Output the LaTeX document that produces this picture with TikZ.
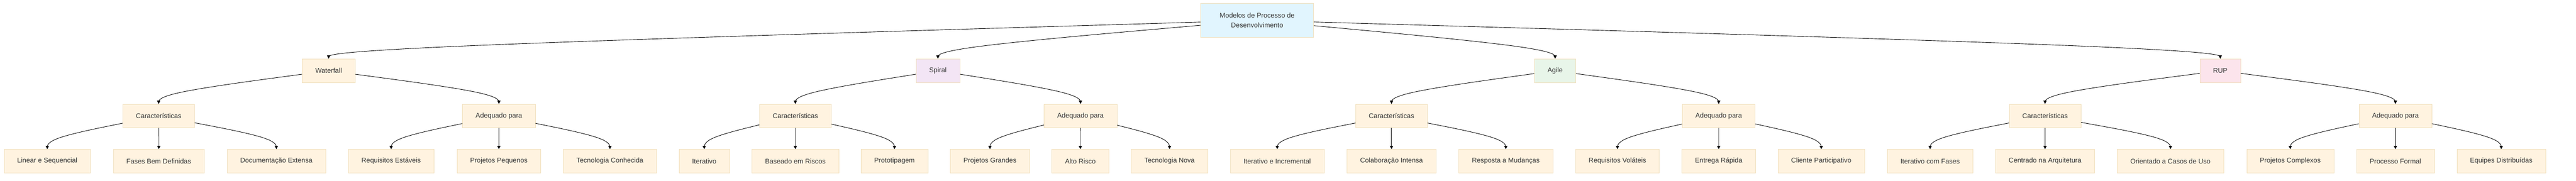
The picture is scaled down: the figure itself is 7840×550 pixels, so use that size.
\documentclass[tikz,border=0pt]{standalone}
\usepackage{fontspec}
\setmainfont{Liberation Sans}
\usetikzlibrary{calc,arrows.meta}
\definecolor{boxline}{HTML}{F0DFBC}
\definecolor{txt}{HTML}{333333}
\definecolor{cream}{HTML}{FFF3E0}
\definecolor{rootfill}{HTML}{E1F5FE}
\definecolor{spiralfill}{HTML}{F3E5F5}
\definecolor{agilefill}{HTML}{E8F5E9}
\definecolor{rupfill}{HTML}{FCE4EC}
\newcommand\nodefont{\fontsize{20.7pt}{30.3pt}\selectfont}
\tikzset{
  box/.style={draw=boxline, line width=1pt, fill=#1, text=txt, font=\nodefont,
    minimum height=72pt, inner xsep=40pt, inner ysep=0pt, align=center},
  box/.default=cream,
  edge/.style={draw=black, line width=1.4pt, -{Triangle[length=10pt,width=10pt]}}
}
\newcommand\bedge[3]{%
  \coordinate (m) at (#2.north |- 0,#3);
  \coordinate (e) at (#2.north);
  \path (#1) -- (m) coordinate[pos=0] (s);
  \draw[edge] (s) -- ($(s)!1/6!(m)$)
    .. controls ($(s)!1/3!(m)$) and ($(s)!2/3!(m)$) .. ($(m)!1/3!($(s)!0.5!(e)$)$)
    .. controls ($(m)!1/3!(e)$) and ($(m)!2/3!(e)$) .. ($(m)!5/6!(e)$) -- (e);
}
\begin{document}
\begin{tikzpicture}[x=1pt,y=-1pt]
\useasboundingbox (0,0) rectangle (7840,550);
% root
\node[box=rootfill, minimum width=344pt, minimum height=104pt, inner xsep=0pt] (root) at (3826,62) {Modelos de Processo de\\Desenvolvimento};
% level 1
\node[box] (wf) at (1000.2,215) {Waterfall};
\node[box=spiralfill] (sp) at (2854.5,215) {Spiral};
\node[box=agilefill] (ag) at (4732.9,215) {Agile};
\node[box=rupfill] (rup) at (6757.2,215) {RUP};
% level 2
\node[box] (c1) at (482.9,352.5) {Características};
\node[box] (a1) at (1518.4,352.5) {Adequado para};
\node[box] (c2) at (2420.6,352.5) {Características};
\node[box] (a2) at (3288.4,352.5) {Adequado para};
\node[box] (c3) at (4235,352.5) {Características};
\node[box] (a3) at (5230.8,352.5) {Adequado para};
\node[box] (c4) at (6224,352.5) {Características};
\node[box] (a4) at (7290.3,352.5) {Adequado para};
% level 3
\node[box] (l1) at (143.9,490) {Linear e Sequencial};
\node[box] (l2) at (483.3,490) {Fases Bem Definidas};
\node[box] (l3) at (841.1,490) {Documentação Extensa};
\node[box] (l4) at (1190.5,490) {Requisitos Estáveis};
\node[box] (l5) at (1518.3,490) {Projetos Pequenos};
\node[box] (l6) at (1856.3,490) {Tecnologia Conhecida};
\node[box] (l7) at (2143.3,490) {Iterativo};
\node[box] (l8) at (2420.6,490) {Baseado em Riscos};
\node[box] (l9) at (2722.3,490) {Prototipagem};
\node[box] (l10) at (3012.9,490) {Projetos Grandes};
\node[box] (l11) at (3288,490) {Alto Risco};
\node[box] (l12) at (3559.4,490) {Tecnologia Nova};
\node[box] (l13) at (3887.2,490) {Iterativo e Incremental};
\node[box] (l14) at (4235,490) {Colaboração Intensa};
\node[box] (l15) at (4582.8,490) {Resposta a Mudanças};
\node[box] (l16) at (4922.7,490) {Requisitos Voláteis};
\node[box] (l17) at (5230.8,490) {Entrega Rápida};
\node[box] (l18) at (5542.9,490) {Cliente Participativo};
\node[box] (l19) at (5874.2,490) {Iterativo com Fases};
\node[box] (l20) at (6224,490) {Centrado na Arquitetura};
\node[box] (l21) at (6605.6,490) {Orientado a Casos de Uso};
\node[box] (l22) at (6970.3,490) {Projetos Complexos};
\node[box] (l23) at (7290.3,490) {Processo Formal};
\node[box] (l24) at (7612.4,490) {Equipes Distribuídas};
% edges
\bedge{root}{wf}{146.5}
\bedge{root}{sp}{146.5}
\bedge{root}{ag}{146.5}
\bedge{root}{rup}{146.5}
\bedge{wf}{c1}{284}
\bedge{wf}{a1}{284}
\bedge{sp}{c2}{284}
\bedge{sp}{a2}{284}
\bedge{ag}{c3}{284}
\bedge{ag}{a3}{284}
\bedge{rup}{c4}{284}
\bedge{rup}{a4}{284}
\bedge{c1}{l1}{421}
\bedge{c1}{l2}{421}
\bedge{c1}{l3}{421}
\bedge{a1}{l4}{421}
\bedge{a1}{l5}{421}
\bedge{a1}{l6}{421}
\bedge{c2}{l7}{421}
\bedge{c2}{l8}{421}
\bedge{c2}{l9}{421}
\bedge{a2}{l10}{421}
\bedge{a2}{l11}{421}
\bedge{a2}{l12}{421}
\bedge{c3}{l13}{421}
\bedge{c3}{l14}{421}
\bedge{c3}{l15}{421}
\bedge{a3}{l16}{421}
\bedge{a3}{l17}{421}
\bedge{a3}{l18}{421}
\bedge{c4}{l19}{421}
\bedge{c4}{l20}{421}
\bedge{c4}{l21}{421}
\bedge{a4}{l22}{421}
\bedge{a4}{l23}{421}
\bedge{a4}{l24}{421}
\end{tikzpicture}
\end{document}
